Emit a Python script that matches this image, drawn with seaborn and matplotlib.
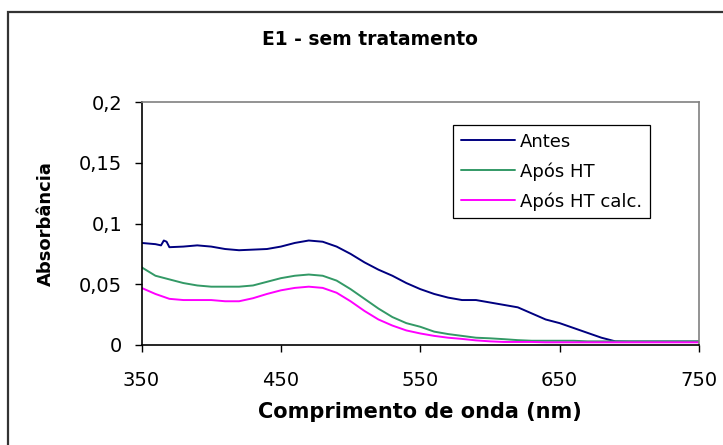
import matplotlib
matplotlib.use("Agg")
import matplotlib.pyplot as plt
from matplotlib.patches import Rectangle
import seaborn as sns
import pandas as pd

# Absorption spectra, wavelength in nm
wl_antes = [350, 355, 360, 364, 366, 368, 370, 380, 390, 400, 410, 420, 430, 440,
            450, 460, 470, 480, 490, 500, 510, 520, 530, 540, 550, 560, 570, 580,
            590, 600, 610, 620, 630, 640, 650, 660, 670, 680, 690, 700, 710, 720,
            730, 740, 750]
antes = [0.084, 0.0835, 0.083, 0.082, 0.086, 0.085, 0.0805, 0.081, 0.082, 0.081,
         0.079, 0.078, 0.0785, 0.079, 0.081, 0.084, 0.086, 0.085, 0.081, 0.075,
         0.068, 0.062, 0.057, 0.051, 0.046, 0.042, 0.039, 0.037, 0.037, 0.035,
         0.033, 0.031, 0.026, 0.021, 0.018, 0.014, 0.010, 0.006, 0.003, 0.0028,
         0.0028, 0.0028, 0.0028, 0.0028, 0.0028]

wl = list(range(350, 751, 10))
apos_ht = [0.064, 0.057, 0.054, 0.051, 0.049, 0.048, 0.048, 0.048, 0.049, 0.052,
           0.055, 0.057, 0.058, 0.057, 0.053, 0.046, 0.038, 0.030, 0.023, 0.018,
           0.015, 0.011, 0.009, 0.0075, 0.006, 0.0055, 0.0048, 0.004, 0.0035,
           0.0035, 0.0035, 0.0035, 0.003, 0.003, 0.003, 0.003, 0.003, 0.003,
           0.003, 0.003, 0.003]
apos_ht_calc = [0.047, 0.042, 0.038, 0.037, 0.037, 0.037, 0.036, 0.036, 0.0385,
                0.042, 0.045, 0.047, 0.048, 0.047, 0.043, 0.036, 0.028, 0.021,
                0.016, 0.012, 0.0095, 0.0075, 0.006, 0.005, 0.0038, 0.003,
                0.0025, 0.0025, 0.0025, 0.0022, 0.0022, 0.0022, 0.0022, 0.0022,
                0.0022, 0.0022, 0.0022, 0.0022, 0.0022, 0.0022, 0.0022]

labels = ["Antes", "Após HT", "Após HT calc."]
colors = ["#000080", "#339966", "#FF00FF"]

x_ticks = [350, 450, 550, 650, 750]
y_ticks = [0, 0.05, 0.1, 0.15, 0.2]
y_tick_labels = ["0", "0,05", "0,1", "0,15", "0,2"]

sns.set_style("white")
plt.rcParams["font.family"] = ["DejaVu Sans"]
plt.rcParams.update({"text.color": "black", "axes.labelcolor": "black",
                     "xtick.color": "black", "ytick.color": "black"})

fig = plt.figure(figsize=(7.23, 4.45), dpi=100)
W, H = 723, 445
L, R, T, B = 141.5, 699, 102, 345
ax = fig.add_axes([L / W, 1 - B / H, (R - L) / W, (B - T) / H])

# Outer chart frame
fig.patches.append(Rectangle((8 / W, -0.1), 1.2, 1 - 12.5 / H + 0.1,
                             transform=fig.transFigure, fill=False,
                             edgecolor="#333333", linewidth=1.6))

series = [(wl_antes, antes), (wl, apos_ht), (wl, apos_ht_calc)]
for (xs, ys), lab, col in zip(series, labels, colors):
    df = pd.DataFrame({"wl": xs, "abs": ys})
    sns.lineplot(data=df, x="wl", y="abs", ax=ax, color=col, linewidth=1.4,
                 label=lab)

ax.set_xlim(350, 750)
ax.set_ylim(0, 0.2)
ax.set_xticks(x_ticks)
ax.set_xticklabels([str(t) for t in x_ticks], fontsize=14)
ax.set_yticks(y_ticks)
ax.set_yticklabels(y_tick_labels, fontsize=14)
ax.tick_params(axis="both", direction="out", length=5, width=1, color="black",
               labelcolor="black", left=True, bottom=True)
ax.tick_params(axis="y", pad=9)
ax.tick_params(axis="x", pad=14)

for side in ["left", "bottom"]:
    ax.spines[side].set_color("black")
    ax.spines[side].set_linewidth(1.2)
for side in ["right", "top"]:
    ax.spines[side].set_color("#808080")
    ax.spines[side].set_linewidth(1.2)

ax.set_xlabel("Comprimento de onda (nm)", fontsize=15, fontweight="bold",
              color="black")
ax.xaxis.set_label_coords(0.5, (B - 402) / (B - T))
ax.set_ylabel("Absorbância", fontsize=13, fontweight="bold", color="black")
ax.yaxis.set_label_coords((46 - L) / (R - L), 0.5)
ax.yaxis.label.set_va("center")

fig.text(370 / W, 1 - 45 / H, "E1 - sem tratamento", ha="center",
         va="baseline", fontsize=13.5, fontweight="bold", color="black")

leg = ax.legend(loc="upper left",
                bbox_to_anchor=((453 - L) / (R - L), (B - 125) / (B - T)),
                borderaxespad=0, fontsize=13, frameon=True, fancybox=False,
                edgecolor="black", framealpha=1, handlelength=3.0,
                handletextpad=0.3, labelspacing=0.64, borderpad=0.42)
leg.get_frame().set_linewidth(0.9)
for txt in leg.get_texts():
    txt.set_color("black")

fig.savefig("out.png", dpi=100)
